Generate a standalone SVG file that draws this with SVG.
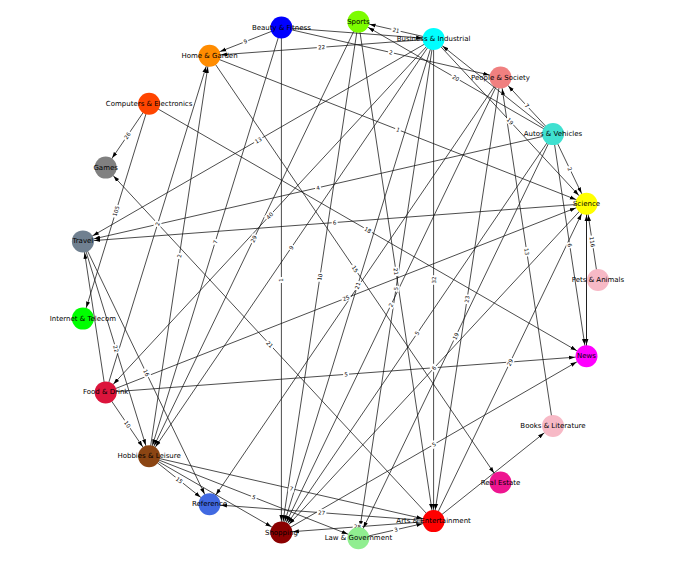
<svg xmlns="http://www.w3.org/2000/svg" width="691" height="570" viewBox="0 0 691 570">
<style>
.e{stroke:#111;stroke-width:0.75;fill:none;marker-end:url(#a)}
.n{stroke:none}
.nl{font-family:"DejaVu Sans","Liberation Sans",sans-serif;font-size:7px;fill:#000;text-anchor:middle;dominant-baseline:central}
.el text{font-family:"DejaVu Sans","Liberation Sans",sans-serif;font-size:5.5px;fill:#000;text-anchor:middle;dominant-baseline:central}
.el rect{fill:#fff}
</style>
<defs>
<marker id="a" markerUnits="userSpaceOnUse" markerWidth="30" markerHeight="10" viewBox="0 -5 30 10" refX="17.5" refY="0" orient="auto"><path d="M0,-2 L6,0 L0,2 z" fill="#000"/></marker>
</defs>
<rect width="691" height="570" fill="#fff"/>
<g id="edges">
<line class="e" x1="281.4" y1="27.5" x2="209.5" y2="55.7"/>
<line class="e" x1="433.6" y1="38.9" x2="209.5" y2="55.7"/>
<line class="e" x1="433.6" y1="38.9" x2="358.4" y2="21.7"/>
<line class="e" x1="281.4" y1="27.5" x2="500.5" y2="77.5"/>
<line class="e" x1="553" y1="134.1" x2="358.4" y2="21.7"/>
<line class="e" x1="433.6" y1="38.9" x2="586.5" y2="203.7"/>
<line class="e" x1="553" y1="134.1" x2="500.5" y2="77.5"/>
<line class="e" x1="553" y1="134.1" x2="586.5" y2="203.7"/>
<line class="e" x1="209.5" y1="55.7" x2="586.5" y2="203.7"/>
<line class="e" x1="433.6" y1="38.9" x2="82.9" y2="241.4"/>
<line class="e" x1="553" y1="134.1" x2="82.9" y2="241.4"/>
<line class="e" x1="586.5" y1="203.7" x2="82.9" y2="241.4"/>
<line class="e" x1="149.1" y1="103.8" x2="586.5" y2="356.3"/>
<line class="e" x1="433.6" y1="38.9" x2="105.7" y2="392.4"/>
<line class="e" x1="358.4" y1="21.7" x2="149.1" y2="456.2"/>
<line class="e" x1="433.6" y1="38.9" x2="149.1" y2="456.2"/>
<line class="e" x1="358.4" y1="21.7" x2="281.4" y2="532.5"/>
<line class="e" x1="281.4" y1="27.5" x2="281.4" y2="532.5"/>
<line class="e" x1="209.5" y1="55.7" x2="500.5" y2="482.5"/>
<line class="e" x1="358.4" y1="21.7" x2="433.6" y2="521.1"/>
<line class="e" x1="433.6" y1="38.9" x2="281.4" y2="532.5"/>
<line class="e" x1="105.7" y1="392.4" x2="586.5" y2="203.7"/>
<line class="e" x1="500.5" y1="77.5" x2="281.4" y2="532.5"/>
<line class="e" x1="433.6" y1="38.9" x2="358.4" y2="538.3"/>
<line class="e" x1="433.6" y1="38.9" x2="433.6" y2="521.1"/>
<line class="e" x1="500.5" y1="77.5" x2="433.6" y2="521.1"/>
<line class="e" x1="553" y1="134.1" x2="281.4" y2="532.5"/>
<line class="e" x1="553" y1="134.1" x2="358.4" y2="538.3"/>
<line class="e" x1="586.5" y1="203.7" x2="281.4" y2="532.5"/>
<line class="e" x1="105.7" y1="392.4" x2="586.5" y2="356.3"/>
<line class="e" x1="433.6" y1="521.1" x2="105.7" y2="167.6"/>
<line class="e" x1="553" y1="425.9" x2="500.5" y2="77.5"/>
<line class="e" x1="553" y1="134.1" x2="586.5" y2="356.3"/>
<line class="e" x1="598" y1="280" x2="586.5" y2="203.7"/>
<line class="e" x1="586.5" y1="203.7" x2="586.5" y2="356.3"/>
<line class="e" x1="586.5" y1="356.3" x2="586.5" y2="203.7"/>
<line class="e" x1="433.6" y1="521.1" x2="586.5" y2="203.7"/>
<line class="e" x1="281.4" y1="532.5" x2="586.5" y2="356.3"/>
<line class="e" x1="433.6" y1="521.1" x2="209.5" y2="504.3"/>
<line class="e" x1="433.6" y1="521.1" x2="281.4" y2="532.5"/>
<line class="e" x1="358.4" y1="538.3" x2="433.6" y2="521.1"/>
<line class="e" x1="149.1" y1="456.2" x2="358.4" y2="538.3"/>
<line class="e" x1="149.1" y1="456.2" x2="209.5" y2="504.3"/>
<line class="e" x1="149.1" y1="456.2" x2="433.6" y2="521.1"/>
<line class="e" x1="105.7" y1="392.4" x2="149.1" y2="456.2"/>
<line class="e" x1="82.9" y1="241.4" x2="209.5" y2="504.3"/>
<line class="e" x1="82.9" y1="241.4" x2="149.1" y2="456.2"/>
<line class="e" x1="105.7" y1="392.4" x2="82.9" y2="241.4"/>
<line class="e" x1="149.1" y1="103.8" x2="82.9" y2="318.6"/>
<line class="e" x1="149.1" y1="103.8" x2="105.7" y2="167.6"/>
<line class="e" x1="105.7" y1="392.4" x2="209.5" y2="55.7"/>
<line class="e" x1="149.1" y1="456.2" x2="209.5" y2="55.7"/>
<line class="e" x1="281.4" y1="27.5" x2="149.1" y2="456.2"/>
<line class="e" x1="433.6" y1="521.1" x2="553" y2="425.9"/>
<line class="e" x1="281.4" y1="27.5" x2="433.6" y2="38.9"/>
<line class="e" x1="500.5" y1="77.5" x2="209.5" y2="504.3"/>
<line class="e" x1="553" y1="134.1" x2="433.6" y2="38.9"/>
<line class="e" x1="149.1" y1="456.2" x2="281.4" y2="532.5"/>
</g>
<g id="edge-labels" class="el">
<g transform="translate(245.5,41.6) rotate(-21.4)"><rect x="-3" y="-3.5" width="6" height="7"/><text>9</text></g>
<g transform="translate(321.6,47.3) rotate(-4.3)"><rect x="-4.8" y="-3.5" width="9.6" height="7"/><text>22</text></g>
<g transform="translate(396,30.3) rotate(12.9)"><rect x="-4.8" y="-3.5" width="9.6" height="7"/><text>21</text></g>
<g transform="translate(391,52.5) rotate(12.9)"><rect x="-3" y="-3.5" width="6" height="7"/><text>2</text></g>
<g transform="translate(455.7,77.9) rotate(30)"><rect x="-4.8" y="-3.5" width="9.6" height="7"/><text>20</text></g>
<g transform="translate(510,121.3) rotate(47.1)"><rect x="-4.8" y="-3.5" width="9.6" height="7"/><text>19</text></g>
<g transform="translate(526.8,105.8) rotate(47.2)"><rect x="-3" y="-3.5" width="6" height="7"/><text>7</text></g>
<g transform="translate(569.8,168.9) rotate(64.3)"><rect x="-3" y="-3.5" width="6" height="7"/><text>2</text></g>
<g transform="translate(398,129.7) rotate(21.4)"><rect x="-3" y="-3.5" width="6" height="7"/><text>1</text></g>
<g transform="translate(258.3,140.2) rotate(-30)"><rect x="-4.8" y="-3.5" width="9.6" height="7"/><text>13</text></g>
<g transform="translate(318,187.8) rotate(-12.9)"><rect x="-3" y="-3.5" width="6" height="7"/><text>4</text></g>
<g transform="translate(334.7,222.6) rotate(-4.3)"><rect x="-3" y="-3.5" width="6" height="7"/><text>6</text></g>
<g transform="translate(367.8,230.1) rotate(30)"><rect x="-4.8" y="-3.5" width="9.6" height="7"/><text>18</text></g>
<g transform="translate(269.7,215.7) rotate(-47.2)"><rect x="-4.8" y="-3.5" width="9.6" height="7"/><text>40</text></g>
<g transform="translate(253.8,239) rotate(-64.3)"><rect x="-4.8" y="-3.5" width="9.6" height="7"/><text>29</text></g>
<g transform="translate(291.4,247.6) rotate(-55.7)"><rect x="-3" y="-3.5" width="6" height="7"/><text>9</text></g>
<g transform="translate(319.9,277.1) rotate(-81.4)"><rect x="-4.8" y="-3.5" width="9.6" height="7"/><text>10</text></g>
<g transform="translate(281.4,280) rotate(-90)"><rect x="-3" y="-3.5" width="6" height="7"/><text>1</text></g>
<g transform="translate(355,269.1) rotate(55.7)"><rect x="-4.8" y="-3.5" width="9.6" height="7"/><text>15</text></g>
<g transform="translate(396,271.4) rotate(81.4)"><rect x="-4.8" y="-3.5" width="9.6" height="7"/><text>21</text></g>
<g transform="translate(357.5,285.7) rotate(-72.9)"><rect x="-4.8" y="-3.5" width="9.6" height="7"/><text>21</text></g>
<g transform="translate(346.1,298.1) rotate(-21.4)"><rect x="-4.8" y="-3.5" width="9.6" height="7"/><text>25</text></g>
<g transform="translate(391,305) rotate(-64.3)"><rect x="-3" y="-3.5" width="6" height="7"/><text>2</text></g>
<g transform="translate(396,288.6) rotate(-81.4)"><rect x="-3" y="-3.5" width="6" height="7"/><text>5</text></g>
<g transform="translate(433.6,280) rotate(-90)"><rect x="-4.8" y="-3.5" width="9.6" height="7"/><text>32</text></g>
<g transform="translate(467,299.3) rotate(-81.4)"><rect x="-4.8" y="-3.5" width="9.6" height="7"/><text>23</text></g>
<g transform="translate(417.2,333.3) rotate(-55.7)"><rect x="-3" y="-3.5" width="6" height="7"/><text>5</text></g>
<g transform="translate(455.7,336.2) rotate(-64.3)"><rect x="-4.8" y="-3.5" width="9.6" height="7"/><text>19</text></g>
<g transform="translate(434,368.1) rotate(-47.1)"><rect x="-3" y="-3.5" width="6" height="7"/><text>6</text></g>
<g transform="translate(346.1,374.4) rotate(-4.3)"><rect x="-3" y="-3.5" width="6" height="7"/><text>5</text></g>
<g transform="translate(269.7,344.4) rotate(47.2)"><rect x="-4.8" y="-3.5" width="9.6" height="7"/><text>21</text></g>
<g transform="translate(526.8,251.7) rotate(81.4)"><rect x="-4.8" y="-3.5" width="9.6" height="7"/><text>13</text></g>
<g transform="translate(569.8,245.2) rotate(81.4)"><rect x="-3" y="-3.5" width="6" height="7"/><text>6</text></g>
<g transform="translate(592.3,241.9) rotate(81.4)"><rect x="-6.5" y="-3.5" width="13" height="7"/><text>116</text></g>
<g transform="translate(510,362.4) rotate(-64.3)"><rect x="-4.8" y="-3.5" width="9.6" height="7"/><text>29</text></g>
<g transform="translate(433.9,444.4) rotate(-30)"><rect x="-3" y="-3.5" width="6" height="7"/><text>5</text></g>
<g transform="translate(321.6,512.7) rotate(4.3)"><rect x="-4.8" y="-3.5" width="9.6" height="7"/><text>27</text></g>
<g transform="translate(357.5,526.8) rotate(4.3)"><rect x="-4.8" y="-3.5" width="9.6" height="7"/><text>28</text></g>
<g transform="translate(396,529.7) rotate(-12.9)"><rect x="-3" y="-3.5" width="6" height="7"/><text>3</text></g>
<g transform="translate(253.8,497.3) rotate(21.4)"><rect x="-3" y="-3.5" width="6" height="7"/><text>5</text></g>
<g transform="translate(179.3,480.3) rotate(38.5)"><rect x="-4.8" y="-3.5" width="9.6" height="7"/><text>15</text></g>
<g transform="translate(291.4,488.7) rotate(12.9)"><rect x="-3" y="-3.5" width="6" height="7"/><text>7</text></g>
<g transform="translate(127.4,424.3) rotate(55.8)"><rect x="-4.8" y="-3.5" width="9.6" height="7"/><text>10</text></g>
<g transform="translate(146.2,372.9) rotate(64.3)"><rect x="-4.8" y="-3.5" width="9.6" height="7"/><text>16</text></g>
<g transform="translate(116,348.8) rotate(72.9)"><rect x="-4.8" y="-3.5" width="9.6" height="7"/><text>22</text></g>
<g transform="translate(116,211.2) rotate(-72.9)"><rect x="-6.5" y="-3.5" width="13" height="7"/><text>105</text></g>
<g transform="translate(127.4,135.7) rotate(-55.8)"><rect x="-4.8" y="-3.5" width="9.6" height="7"/><text>26</text></g>
<g transform="translate(157.6,224) rotate(-72.9)"><rect x="-3" y="-3.5" width="6" height="7"/><text>2</text></g>
<g transform="translate(179.3,256) rotate(-81.4)"><rect x="-3" y="-3.5" width="6" height="7"/><text>2</text></g>
<g transform="translate(215.3,241.9) rotate(-72.9)"><rect x="-3" y="-3.5" width="6" height="7"/><text>7</text></g>
</g>
<g id="nodes">
<g id="pets"><circle class="n" cx="598" cy="280" r="11" fill="#F7B9C6"/><text class="nl" x="598" y="280">Pets &amp; Animals</text></g>
<g id="science"><circle class="n" cx="586.5" cy="203.7" r="11" fill="#FFFF00"/><text class="nl" x="586.5" y="203.7">Science</text></g>
<g id="autos"><circle class="n" cx="553" cy="134.1" r="11" fill="#40E0D0"/><text class="nl" x="553" y="134.1">Autos &amp; Vehicles</text></g>
<g id="people"><circle class="n" cx="500.5" cy="77.5" r="11" fill="#F08080"/><text class="nl" x="500.5" y="77.5">People &amp; Society</text></g>
<g id="business"><circle class="n" cx="433.6" cy="38.9" r="11" fill="#00FFFF"/><text class="nl" x="433.6" y="38.9">Business &amp; Industrial</text></g>
<g id="sports"><circle class="n" cx="358.4" cy="21.7" r="11" fill="#7CFC00"/><text class="nl" x="358.4" y="21.7">Sports</text></g>
<g id="beauty"><circle class="n" cx="281.4" cy="27.5" r="11" fill="#0000FF"/><text class="nl" x="281.4" y="27.5">Beauty &amp; Fitness</text></g>
<g id="home"><circle class="n" cx="209.5" cy="55.7" r="11" fill="#FF8C00"/><text class="nl" x="209.5" y="55.7">Home &amp; Garden</text></g>
<g id="computers"><circle class="n" cx="149.1" cy="103.8" r="11" fill="#FF4500"/><text class="nl" x="149.1" y="103.8">Computers &amp; Electronics</text></g>
<g id="games"><circle class="n" cx="105.7" cy="167.6" r="11" fill="#808080"/><text class="nl" x="105.7" y="167.6">Games</text></g>
<g id="travel"><circle class="n" cx="82.9" cy="241.4" r="11" fill="#708090"/><text class="nl" x="82.9" y="241.4">Travel</text></g>
<g id="internet"><circle class="n" cx="82.9" cy="318.6" r="11" fill="#00FF00"/><text class="nl" x="82.9" y="318.6">Internet &amp; Telecom</text></g>
<g id="food"><circle class="n" cx="105.7" cy="392.4" r="11" fill="#DC143C"/><text class="nl" x="105.7" y="392.4">Food &amp; Drink</text></g>
<g id="hobbies"><circle class="n" cx="149.1" cy="456.2" r="11" fill="#8B4513"/><text class="nl" x="149.1" y="456.2">Hobbies &amp; Leisure</text></g>
<g id="reference"><circle class="n" cx="209.5" cy="504.3" r="11" fill="#4169E1"/><text class="nl" x="209.5" y="504.3">Reference</text></g>
<g id="shopping"><circle class="n" cx="281.4" cy="532.5" r="11" fill="#8B0000"/><text class="nl" x="281.4" y="532.5">Shopping</text></g>
<g id="law"><circle class="n" cx="358.4" cy="538.3" r="11" fill="#90EE90"/><text class="nl" x="358.4" y="538.3">Law &amp; Government</text></g>
<g id="arts"><circle class="n" cx="433.6" cy="521.1" r="11" fill="#FF0000"/><text class="nl" x="433.6" y="521.1">Arts &amp; Entertainment</text></g>
<g id="realestate"><circle class="n" cx="500.5" cy="482.5" r="11" fill="#EE1590"/><text class="nl" x="500.5" y="482.5">Real Estate</text></g>
<g id="books"><circle class="n" cx="553" cy="425.9" r="11" fill="#F7B9C6"/><text class="nl" x="553" y="425.9">Books &amp; Literature</text></g>
<g id="news"><circle class="n" cx="586.5" cy="356.3" r="11" fill="#FF00FF"/><text class="nl" x="586.5" y="356.3">News</text></g>
</g>
</svg>
